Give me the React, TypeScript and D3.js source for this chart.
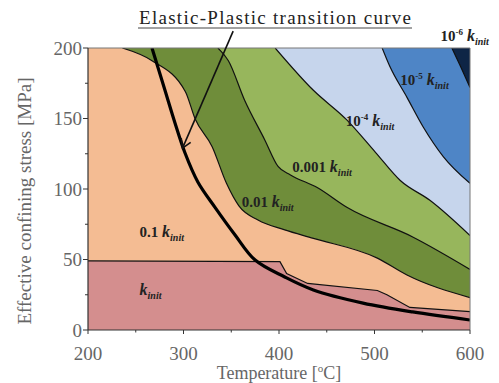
import * as d3 from "d3"
import React from "react"

// temperature [°C] / stress [MPa] pairs
const bKinit: [number, number][] = [[200, 49], [401, 48.5], [408, 40], [430, 33], [503, 28], [513, 25], [537, 16], [600, 13]]
const b01: [number, number][] = [[236, 200], [267, 191], [302, 169], [312, 150], [330, 130], [345, 104], [358, 88], [378, 78], [406, 71], [436, 65], [503, 51], [534, 39], [600, 23]]
const b001: [number, number][] = [[336, 200], [347, 191], [364, 163], [385, 135], [399, 116], [412, 110], [440, 101], [471, 87], [540, 66], [600, 43]]
const b0001: [number, number][] = [[396, 200], [436, 170], [471, 149], [501, 126], [527, 106], [558, 92], [600, 67]]
const b1e4: [number, number][] = [[508, 200], [516, 187], [534, 165], [551, 144], [572, 123], [600, 104]]
const b1e5: [number, number][] = [[581, 200], [590, 187], [600, 172]]
const transition: [number, number][] = [[267, 200], [280.6, 170], [291, 147], [301.6, 125.5], [315, 105], [333, 87], [354, 67.4], [375, 49.6], [406, 37.6], [436, 28.4], [488, 19.1], [540, 12.8], [600, 7.1]]

const regions = [
  { line: bKinit, fill: "#f4bc93", curve: d3.curveLinear },
  { line: b01, fill: "#6f8d3a", curve: d3.curveMonotoneX },
  { line: b001, fill: "#97b65c", curve: d3.curveMonotoneX },
  { line: b0001, fill: "#c6d5ec", curve: d3.curveMonotoneX },
  { line: b1e4, fill: "#4e85c6", curve: d3.curveMonotoneX },
  { line: b1e5, fill: "#0e2546", curve: d3.curveMonotoneX },
]

// label text, exponent, position [T, S]
const labels: { pre: string; exp?: string; at: [number, number] }[] = [
  { pre: "", at: [254, 25] },
  { pre: "0.1 ", at: [254, 66] },
  { pre: "0.01 ", at: [361, 87] },
  { pre: "0.001 ", at: [414, 112] },
  { pre: "10", exp: "-4", at: [470, 145] },
  { pre: "10", exp: "-5", at: [527, 174] },
  { pre: "10", exp: "-6", at: [569, 205] },
]

const xTicks = [200, 300, 400, 500, 600]
const yTicks = [0, 50, 100, 150, 200]

const W = 499
const H = 383
const m = { left: 88, right: 29, top: 48, bottom: 53 }
const serif = "Liberation Serif, DejaVu Serif, serif"

export default function App() {
  const x = d3.scaleLinear().domain([200, 600]).range([m.left, W - m.right])
  const y = d3.scaleLinear().domain([0, 200]).range([H - m.bottom, m.top])

  const area = (c: d3.CurveFactory) => d3.area<[number, number]>().x(d => x(d[0])).y0(d => y(d[1])).y1(y(200)).curve(c)
  const line = (c: d3.CurveFactory) => d3.line<[number, number]>().x(d => x(d[0])).y(d => y(d[1])).curve(c)

  const minorX = d3.range(250, 600, 100)
  const minorY = d3.range(25, 200, 50)

  // arrow from title down to the thick curve
  const a0: [number, number] = [x(352), y(212)]
  const a1: [number, number] = [x(299), y(129)]
  const ang = Math.atan2(a1[1] - a0[1], a1[0] - a0[0])
  const head = [ang + 2.6, ang - 2.6].map(t => [a1[0] + 10 * Math.cos(t), a1[1] + 10 * Math.sin(t)])

  return (
    <svg width={W} height={H} fontFamily={serif} style={{ position: "absolute", left: 0, top: 0 }}>
      <defs>
        <clipPath id="plot">
          <rect x={x(200)} y={y(200)} width={x(600) - x(200)} height={y(0) - y(200)} />
        </clipPath>
      </defs>
      <g clipPath="url(#plot)">
        <rect x={x(200)} y={y(200)} width={x(600) - x(200)} height={y(0) - y(200)} fill="#d48e8e" />
        {regions.map((r, i) => (
          <path key={i} d={area(r.curve)(r.line) ?? ""} fill={r.fill} />
        ))}
        {regions.map((r, i) => (
          <path key={"l" + i} d={line(r.curve)(r.line) ?? ""} fill="none" stroke="#111" strokeWidth={1.2} />
        ))}
        <path d={line(d3.curveCatmullRom)(transition) ?? ""} fill="none" stroke="#000" strokeWidth={3.2} />
      </g>
      <path d={`M${x(200)},${y(200)}H${x(600)}V${y(0)}`} fill="none" stroke="#777" strokeWidth={1} />
      <line x1={x(200)} x2={x(200)} y1={y(200)} y2={y(0)} stroke="#333" strokeWidth={1.2} />
      <line x1={x(200)} x2={x(600)} y1={y(0)} y2={y(0)} stroke="#333" strokeWidth={1.2} />

      {xTicks.map(t => (
        <g key={t}>
          <line x1={x(t)} x2={x(t)} y1={y(0)} y2={y(0) + 4} stroke="#333" />
          <text x={x(t)} y={360} textAnchor="middle" fontSize={19} fill="#666" fontFamily={serif}>{t}</text>
        </g>
      ))}
      {minorX.map(t => <line key={t} x1={x(t)} x2={x(t)} y1={y(0)} y2={y(0) + 2.5} stroke="#333" />)}
      {yTicks.map(t => (
        <g key={t}>
          <line x1={x(200) - 5} x2={x(200)} y1={y(t)} y2={y(t)} stroke="#333" />
          <text x={82} y={y(t) + 6.5} textAnchor="end" fontSize={19} fill="#666" fontFamily={serif}>{t}</text>
        </g>
      ))}
      {minorY.map(t => <line key={t} x1={x(200) - 3} x2={x(200)} y1={y(t)} y2={y(t)} stroke="#333" />)}

      <text x={279} y={379} textAnchor="middle" fontSize={18} fill="#666" fontFamily={serif}>
        Temperature [<tspan fontSize={11} dy={-7}>o</tspan><tspan dy={7}>C]</tspan>
      </text>
      <text transform={`translate(31,201) rotate(-90)`} textAnchor="middle" fontSize={19} fill="#666" fontFamily={serif}>
        Effective confining stress [MPa]
      </text>

      <text x={275} y={24} textAnchor="middle" fontSize={19} fill="#222" fontFamily={serif} textLength={272}>Elastic-Plastic transition curve</text>
      <line x1={138} x2={412} y1={28} y2={28} stroke="#444" strokeWidth={1} />
      <line x1={a0[0]} y1={a0[1]} x2={a1[0]} y2={a1[1]} stroke="#111" strokeWidth={1.6} />
      <path d={`M${head[0][0]},${head[0][1]}L${a1[0]},${a1[1]}L${head[1][0]},${head[1][1]}`} fill="none" stroke="#111" strokeWidth={1.6} />

      {labels.map((l, i) => (
        <text key={i} x={x(l.at[0])} y={y(l.at[1])} fontSize={15} fontWeight="bold" fill="#222" fontFamily={serif}>
          {l.pre}
          {l.exp && <tspan fontSize={9} dy={-6}>{l.exp}</tspan>}
          <tspan dy={l.exp ? 6 : 0} fontStyle="italic" fontSize={16}>{l.exp ? " k" : "k"}</tspan>
          <tspan fontStyle="italic" fontSize={10} dy={4}>init</tspan>
        </text>
      ))}
    </svg>
  )
}
